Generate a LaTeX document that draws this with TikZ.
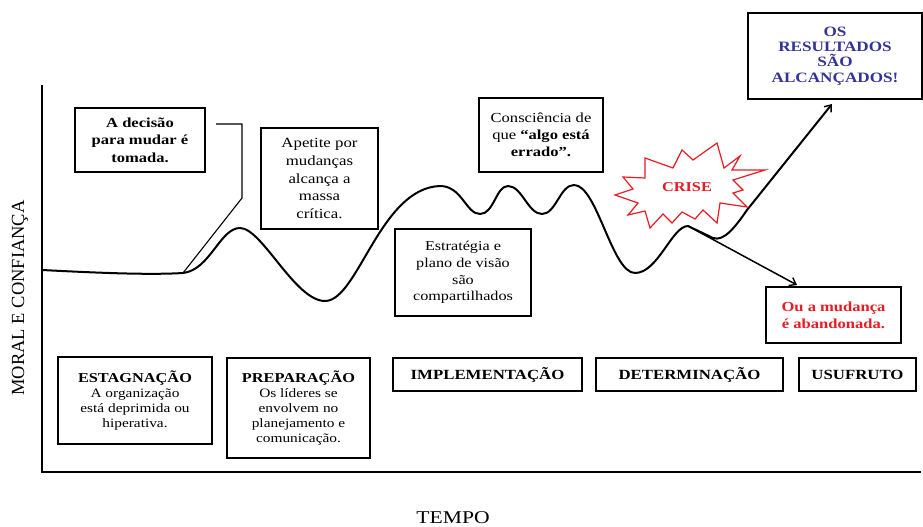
\documentclass[tikz,border=0pt]{standalone}
\usepackage{fontspec}
\setmainfont{Liberation Serif}[FakeStretch=1.2]
\newfontfamily\axisfont{Liberation Serif}
\usetikzlibrary{arrows.meta}
\definecolor{crisered}{RGB}{232,28,36}
\definecolor{resultblue}{RGB}{52,52,150}
\begin{document}
\begin{tikzpicture}[x=1pt,y=-1pt,
  panel/.style 2 args={draw=black, line width=1.8pt, fill=white, inner sep=0pt,
    align=center, minimum width=#1, minimum height=#2},
  curveline/.style={line width=2pt, line cap=round, line join=round},
  axisline/.style={line width=1.5pt},
  calloutline/.style={line width=1.1pt},
  barb/.style={-{Straight Barb[length=6pt,width=9pt,line width=1.4pt]}},
]
\useasboundingbox (0,0) rectangle (923,527);

% axes
\coordinate (origin) at (42,472);
\coordinate (ytop) at (42,85);
\coordinate (xend) at (921,472);
\draw[axisline] (ytop) -- (origin) -- (xend);
\node[rotate=90, font={\axisfont\fontsize{18.5}{20}\selectfont}] (ylabel) at (20,298) {MORAL E CONFIANÇA};
\node[font={\fontsize{18}{20}\selectfont}] (xlabel) at (453,518) {TEMPO};

% morale curve
\draw[curveline] (42,270) .. controls (100,273) and (150,275) .. (183,273)
  .. controls (210,270) and (220,228) .. (240,228)
  .. controls (262,228) and (295,301) .. (325,301)
  .. controls (358,301) and (380,188) .. (440,186)
  .. controls (462,186) and (466,214) .. (480,214)
  .. controls (494,214) and (496,186) .. (508,186)
  .. controls (522,186) and (528,214) .. (542,214)
  .. controls (556,214) and (560,185) .. (574,185)
  .. controls (597,185) and (612,273) .. (635,273)
  .. controls (658,273) and (672,226) .. (688,226)
  -- (713,238)
  .. controls (724,242) and (736,226) .. (747,210);

% callout boxes
\node[panel={130pt}{64pt}, font={\fontsize{13.8}{17.5}\selectfont\bfseries}] (decision) at (140,140)
  {A decisão\\para mudar é\\tomada.};
\node[panel={117pt}{101pt}, font={\fontsize{14}{17.7}\selectfont}] (appetite) at (319.5,178.5)
  {Apetite por\\mudanças\\alcança a\\massa\\crítica.};
\node[panel={124pt}{74pt}, font={\fontsize{13.8}{17}\selectfont}] (awareness) at (541,135)
  {Consciência de\\que {\bfseries “algo está}\\{\bfseries errado”.}};
\node[panel={136pt}{87pt}, font={\fontsize{13.5}{16.8}\selectfont}] (strategy) at (463,272.5)
  {Estratégia e\\plano de visão\\são\\compartilhados};
\node[panel={174pt}{86pt}, text=resultblue, font={\fontsize{14.3}{15.3}\selectfont\bfseries}] (results) at (835,56)
  {OS\\RESULTADOS\\SÃO\\ALCANÇADOS!};
\node[panel={135pt}{56pt}, text=crisered, font={\fontsize{13.8}{16.7}\selectfont\bfseries}] (abandon) at (833.5,315)
  {Ou a mudança\\é abandonada.};

% callout from the decision box down to the curve
\coordinate (decStart) at (216,124);
\coordinate (decBend) at (242,124);
\coordinate (decKnee) at (242,198);
\coordinate (decFoot) at (183,273);
\draw[calloutline] (decStart) -- (decBend) -- (decKnee) -- (decFoot);

% branches after the crisis
\coordinate (riseStart) at (747,210);
\coordinate (riseTip) at (832,104);
\draw[curveline, barb] (riseStart) -- (riseTip);
\coordinate (dropStart) at (688,226);
\coordinate (dropTip) at (797,285);
\draw[line width=1.5pt, barb] (dropStart) -- (dropTip);

% crisis burst
\draw[crisered, line width=1.2pt, line join=miter, fill=white]
  (645,158) -- (673,168) -- (682,150) -- (693,160) -- (717,143) -- (724,168)
  -- (740,156) -- (732,170) -- (765,170) -- (733,180) -- (743,190) -- (733,193)
  -- (747,207) -- (720,203) -- (717,223) -- (703,210) -- (695,219) -- (682,212)
  -- (672,223) -- (663,214) -- (650,228) -- (645,211) -- (628,215) -- (638,203)
  -- (615,195) -- (633,189) -- (623,177) -- (645,178) -- cycle;
\node[text=crisered, font={\fontsize{13.6}{15}\selectfont\bfseries}] (crisis) at (687,187) {CRISE};

% phase boxes
\node[panel={154pt}{87pt}, font={\fontsize{12.8}{15}\selectfont}] (stagnation) at (135,400.5)
  {{\fontsize{13.6}{15}\selectfont\bfseries ESTAGNAÇÃO}\\A organização\\está deprimida ou\\hiperativa.};
\node[panel={143pt}{100pt}, font={\fontsize{12.8}{15}\selectfont}] (preparation) at (298.5,408)
  {{\fontsize{13.6}{15}\selectfont\bfseries PREPARAÇÃO}\\Os líderes se\\envolvem no\\planejamento e\\comunicação.};
\node[panel={189pt}{33pt}, font={\fontsize{14}{16}\selectfont\bfseries}] (implementation) at (487.5,374.5) {IMPLEMENTAÇÃO};
\node[panel={187pt}{33pt}, font={\fontsize{14}{16}\selectfont\bfseries}] (determination) at (689.5,374.5) {DETERMINAÇÃO};
\node[panel={117pt}{33pt}, font={\fontsize{14}{16}\selectfont\bfseries}] (enjoyment) at (857.5,374.5) {USUFRUTO};
\end{tikzpicture}
\end{document}
